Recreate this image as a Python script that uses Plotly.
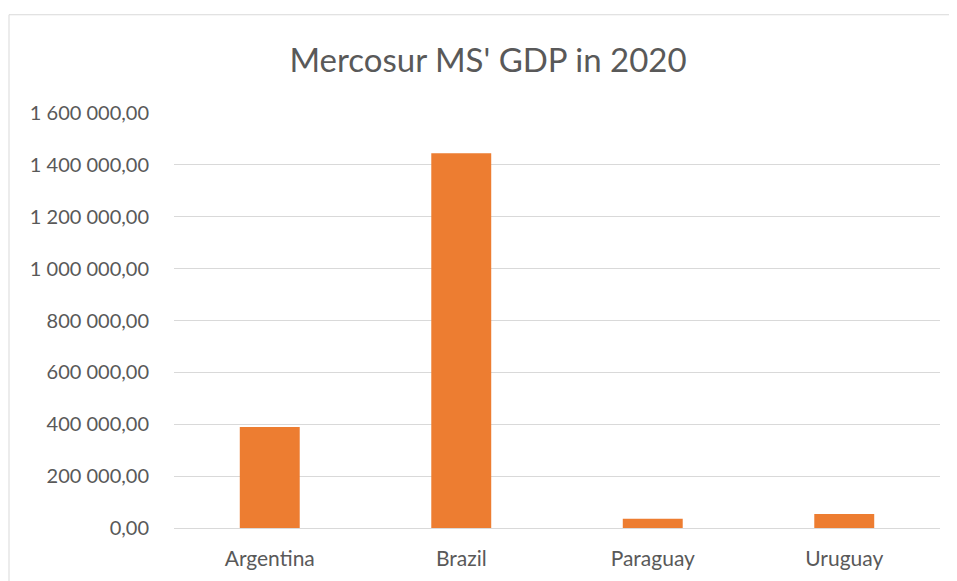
import plotly.graph_objects as go

countries = ["Argentina", "Brazil", "Paraguay", "Uruguay"]
gdp_2020 = [389288, 1444733, 35432, 53629]
y_ticks = [0, 200000, 400000, 600000, 800000, 1000000, 1200000, 1400000, 1600000]

OFF = 8  # page body margin
W, H = 957 - OFF, 581 - OFF
L, T = 174 - OFF, 112.5 - OFF
R = W - (940 - OFF)
B = H - (528.5 - OFF)
pw, ph = W - L - R, H - T - B

fig = go.Figure(go.Bar(x=countries, y=gdp_2020, marker_color="#ED7D31",
                       marker_line_width=0))

fig.update_layout(
    width=W, height=H,
    margin=dict(l=L, r=R, t=T, b=B),
    paper_bgcolor="white", plot_bgcolor="white",
    separators=", ",
    bargap=0.687,
    font=dict(family="Lato, Open Sans, sans-serif", color="#595959", size=20),
    title=dict(text="Mercosur MS' GDP in 2020", x=(488 - OFF) / W, xanchor="center",
               y=1 - (60 - OFF) / H, yanchor="middle",
               font=dict(size=33, color="#595959", family="Lato, Open Sans, sans-serif")),
    showlegend=False,
)
fig.update_yaxes(range=[0, 1600000], tickvals=y_ticks, tickformat=",.2f",
                 showgrid=True, gridcolor="#D9D9D9", gridwidth=1,
                 zeroline=True, zerolinecolor="#D9D9D9", zerolinewidth=1,
                 showline=False, ticks="", ticklabelstandoff=24,
                 tickfont=dict(size=20))
fig.update_xaxes(showline=False, ticks="", tickfont=dict(size=21),
                 ticklabelstandoff=16)

# outer chart border (top and left visible)
fig.add_shape(type="rect", xref="paper", yref="paper",
              x0=(9 - 174) / pw, x1=1.2, y0=-0.3, y1=(528.5 - 14) / ph,
              line=dict(color="#D9D9D9", width=1), fillcolor="rgba(0,0,0,0)",
              layer="below")

fig.write_html("out.html")
